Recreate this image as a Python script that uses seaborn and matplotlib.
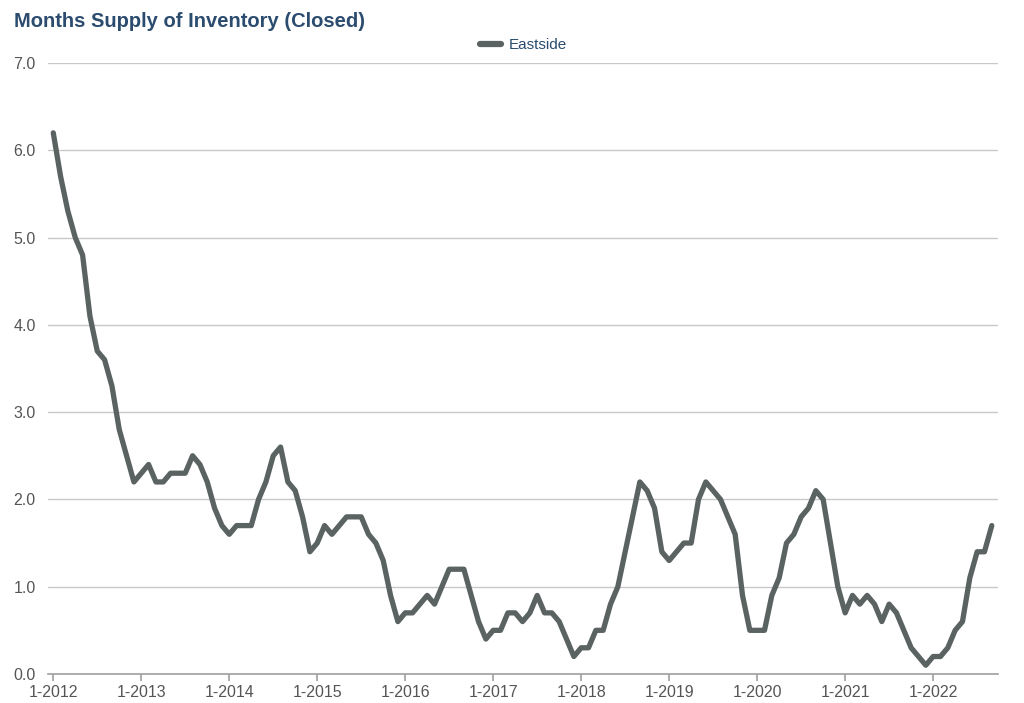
import numpy as np
import pandas as pd
import seaborn as sns
import matplotlib.pyplot as plt

# Monthly months-supply values, Jan 2012 .. Sep 2022
years = list(range(2012, 2023))
supply = [
    6.2, 5.7, 5.3, 5.0, 4.8, 4.1, 3.7, 3.6, 3.3, 2.8, 2.5, 2.2,   # 2012
    2.3, 2.4, 2.2, 2.2, 2.3, 2.3, 2.3, 2.5, 2.4, 2.2, 1.9, 1.7,   # 2013
    1.6, 1.7, 1.7, 1.7, 2.0, 2.2, 2.5, 2.6, 2.2, 2.1, 1.8, 1.4,   # 2014
    1.5, 1.7, 1.6, 1.7, 1.8, 1.8, 1.8, 1.6, 1.5, 1.3, 0.9, 0.6,   # 2015
    0.7, 0.7, 0.8, 0.9, 0.8, 1.0, 1.2, 1.2, 1.2, 0.9, 0.6, 0.4,   # 2016
    0.5, 0.5, 0.7, 0.7, 0.6, 0.7, 0.9, 0.7, 0.7, 0.6, 0.4, 0.2,   # 2017
    0.3, 0.3, 0.5, 0.5, 0.8, 1.0, 1.4, 1.8, 2.2, 2.1, 1.9, 1.4,   # 2018
    1.3, 1.4, 1.5, 1.5, 2.0, 2.2, 2.1, 2.0, 1.8, 1.6, 0.9, 0.5,   # 2019
    0.5, 0.5, 0.9, 1.1, 1.5, 1.6, 1.8, 1.9, 2.1, 2.0, 1.5, 1.0,   # 2020
    0.7, 0.9, 0.8, 0.9, 0.8, 0.6, 0.8, 0.7, 0.5, 0.3, 0.2, 0.1,   # 2021
    0.2, 0.2, 0.3, 0.5, 0.6, 1.1, 1.4, 1.4, 1.7,                  # 2022
]
year_labels = [f"1-{y}" for y in years]

df = pd.DataFrame({"month": np.arange(len(supply)), "supply": supply, "area": "Eastside"})

sns.set_style("white")
plt.rcParams['font.family'] = ['Liberation Sans', 'DejaVu Sans']

fig = plt.figure(figsize=(10.24, 7.03), dpi=100)
ax = fig.add_axes([0.047, 0.0413, 0.928, 0.8691])

sns.lineplot(data=df, x="month", y="supply", hue="area", palette=["#5a6262"],
             linewidth=3.8, ax=ax, legend=True)

ax.set_xlim(-0.7, 128.9)
ax.set_ylim(0, 7)
ax.set_yticks(np.arange(0, 7.01, 1.0))
ax.set_yticklabels([f"{v:.1f}" for v in np.arange(0, 7.01, 1.0)])
ax.set_xticks([12 * i for i in range(len(years))])
ax.set_xticklabels(year_labels)
ax.grid(axis="y", color="#c8c8c8", linewidth=1)
ax.set_axisbelow(True)

for s in ["top", "right", "left"]:
    ax.spines[s].set_visible(False)
ax.spines["bottom"].set_color("#a0a0a0")
ax.spines["bottom"].set_linewidth(1.2)
ax.tick_params(axis="x", length=5, width=1.2, color="#a0a0a0", colors="#555555",
               labelsize=11.5, pad=3, bottom=True)
ax.tick_params(axis="y", length=0, colors="#555555", labelsize=11.5, pad=9)
ax.set_xlabel("")
ax.set_ylabel("")

leg = ax.legend(loc="lower center", bbox_to_anchor=(0.5, 1.0), frameon=False,
                handlelength=1.4, handletextpad=0.5, fontsize=11,
                borderaxespad=0.3)
for t in leg.get_texts():
    t.set_color("#2b4c6f")
for h in leg.get_lines():
    h.set_linewidth(4.5)

fig.text(0.014, 0.97, "Months Supply of Inventory (Closed)", fontsize=14.5,
         fontweight="bold", color="#2b4c6f", ha="left", va="center")

fig.savefig("out.png", dpi=100)
